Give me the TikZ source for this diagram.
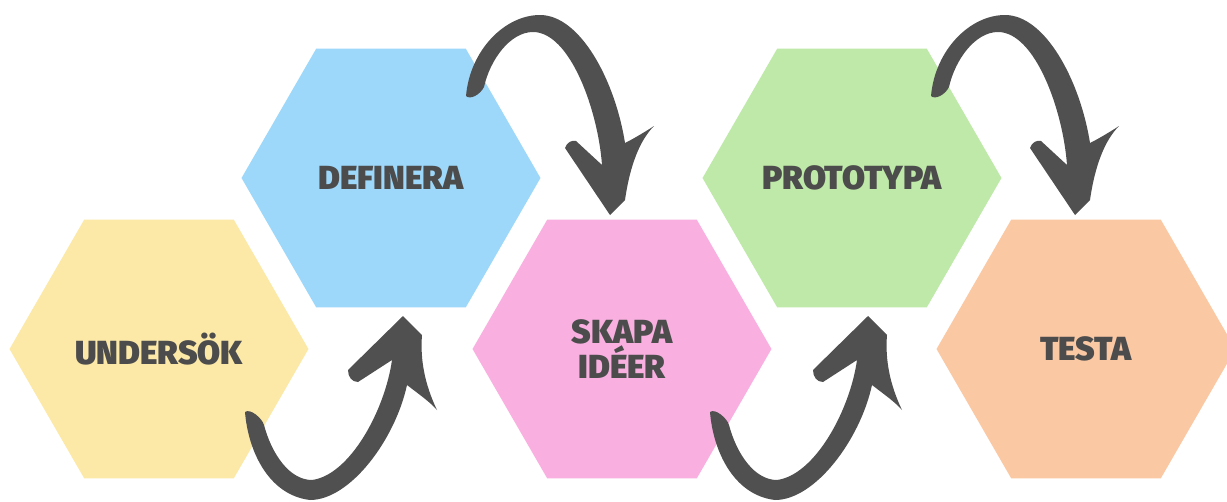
\documentclass[tikz,border=0pt]{standalone}
\usepackage{fontspec}
\newfontfamily\hexfont{Fira Sans Black}
\usetikzlibrary{shapes.geometric}
\definecolor{hexyellow}{RGB}{252,233,168}
\definecolor{hexblue}{RGB}{157,216,250}
\definecolor{hexpink}{RGB}{249,176,225}
\definecolor{hexgreen}{RGB}{190,233,168}
\definecolor{hexorange}{RGB}{251,200,164}
\definecolor{txtgray}{RGB}{76,76,76}
\definecolor{arrowgray}{RGB}{80,80,80}
\tikzset{
  hexbox/.style={regular polygon, regular polygon sides=6, minimum size=5.98cm,
    inner sep=0pt, outer sep=0pt, draw=none, text=txtgray, align=center,
    font=\hexfont\fontsize{19pt}{20pt}\selectfont},
  uparrow/.pic={
    \fill[arrowgray] (86,63) .. controls (89,101) and (109,146) .. (151,151)
      .. controls (191,151) and (236,91) .. (248,36)
      .. controls (261,46) and (271,53) .. (278,61)
      .. controls (266,36) and (261,11) .. (263,-14)
      -- (244,-33) -- (189,21)
      .. controls (189,28) and (193,33) .. (199,33)
      -- (233,11)
      .. controls (226,61) and (191,126) .. (153,131)
      .. controls (131,131) and (113,106) .. (105,76)
      .. controls (103,69) and (91,59) .. (86,63) -- cycle;
  },
  downarrow/.pic={
    \fill[arrowgray] (75,-82) .. controls (79,-128) and (114,-163) .. (149,-163)
      .. controls (189,-163) and (224,-98) .. (234,-35)
      .. controls (244,-40) and (257,-48) .. (263,-52)
      .. controls (249,-38) and (239,-13) .. (234,22)
      -- (219,37) -- (174,-30)
      .. controls (176,-36) and (181,-38) .. (185,-37)
      -- (211,-13)
      .. controls (207,-68) and (179,-146) .. (142,-146)
      .. controls (119,-146) and (99,-118) .. (93,-91)
      .. controls (89,-83) and (79,-78) .. (75,-82) -- cycle;
  }
}
\begin{document}
\begin{tikzpicture}[x=0.02cm,y=-0.02cm]
\useasboundingbox (0,0) rectangle (1227,501);
\fill[white] (0,0) rectangle (1227,501);
\node[hexbox, fill=hexyellow] (u) at (159,349) {UNDERSÖK};
\node[hexbox, fill=hexblue]   (d) at (391,178) {DEFINERA};
\node[hexbox, fill=hexpink]   (s) at (622,349) {SKAPA\\IDÉER};
\node[hexbox, fill=hexgreen]  (p) at (852,178) {PROTOTYPA};
\node[hexbox, fill=hexorange] (t) at (1086,349) {TESTA};
\pic at (u.center) {uparrow};
\pic at (d.center) {downarrow};
\path (s.center) ++(2,0) pic {uparrow};
\path (p.center) ++(4,0) pic {downarrow};
\end{tikzpicture}
\end{document}
